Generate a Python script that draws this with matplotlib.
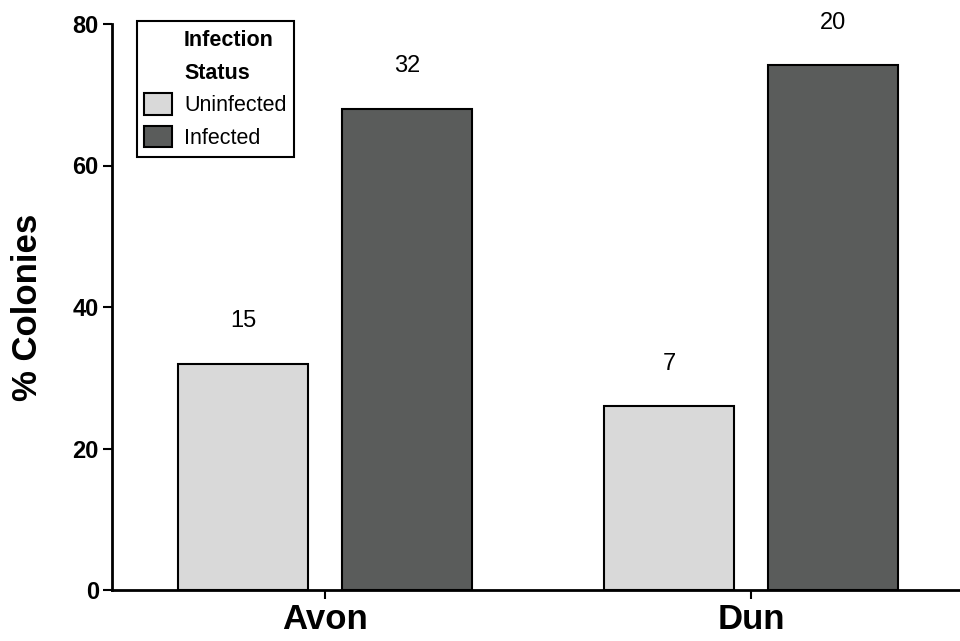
"""
Infection status of colonies at two sites.
"""

import matplotlib
matplotlib.use("Agg")
import matplotlib.pyplot as plt
import matplotlib.patches as patches
import numpy as np

plt.rcParams["font.family"] = ["Liberation Sans", "DejaVu Sans"]

# --- Data ---
sites = ["Avon", "Dun"]
uninfected_pct = [32, 26]
infected_pct = [68, 74.2]
uninfected_n = [15, 7]
infected_n = [32, 20]

light = "#d9d9d9"
dark = "#5a5c5b"

fig = plt.figure(figsize=(9.6, 6.41), dpi=100)
ax = fig.add_axes([112 / 960, 51 / 641, 852 / 960, 566 / 641])

x = np.arange(len(sites))
width = 0.305
offset = 0.1925

bars_u = ax.bar(x - offset, uninfected_pct, width, color=light,
                edgecolor="black", linewidth=1.5, label="Uninfected")
bars_i = ax.bar(x + offset, infected_pct, width, color=dark,
                edgecolor="black", linewidth=1.5, label="Infected")

# sample sizes above bars
for bar, n in zip(list(bars_u) + list(bars_i), uninfected_n + infected_n):
    ax.text(bar.get_x() + bar.get_width() / 2, bar.get_height() + 6, str(n),
            ha="center", va="center", fontsize=17)

ax.set_xlim(-0.5, 1.5)
ax.set_ylim(0, 80)
ax.set_yticks([0, 20, 40, 60, 80])
ax.set_xticks(x)
ax.set_xticklabels(sites, fontsize=25, fontweight="bold")
for lbl in ax.get_yticklabels():
    lbl.set_fontsize(17)
    lbl.set_fontweight("bold")
ax.tick_params(axis="y", length=6.5, width=1.5, pad=3)
ax.tick_params(axis="x", length=6.5, width=1.5, pad=3)

ax.set_ylabel("% Colonies", fontsize=25, fontweight="bold")
ax.yaxis.set_label_coords(-0.08, 0.5)

for side in ["top", "right"]:
    ax.spines[side].set_visible(False)
for side in ["left", "bottom"]:
    ax.spines[side].set_linewidth(2)

# legend: two-line title as blank entries so it lines up with labels
blank = patches.Rectangle((0, 0), 1, 1, fill=False, edgecolor="none")
handles = [blank, blank,
           patches.Rectangle((0, 0), 1, 1, facecolor=light, edgecolor="black", linewidth=1.5),
           patches.Rectangle((0, 0), 1, 1, facecolor=dark, edgecolor="black", linewidth=1.5)]
labels = ["Infection", "Status", "Uninfected", "Infected"]
leg = ax.legend(handles, labels, loc="upper left", bbox_to_anchor=(0.029, 1.006),
                fontsize=15.5, frameon=True, fancybox=False, framealpha=1,
                edgecolor="black", handlelength=1.3, handleheight=1.15,
                handletextpad=0.55, labelspacing=0.45, borderpad=0.35,
                borderaxespad=0)
leg.get_frame().set_linewidth(1.5)
for t in leg.get_texts()[:2]:
    t.set_fontweight("bold")

plt.savefig("out.png", dpi=100)
plt.close()
